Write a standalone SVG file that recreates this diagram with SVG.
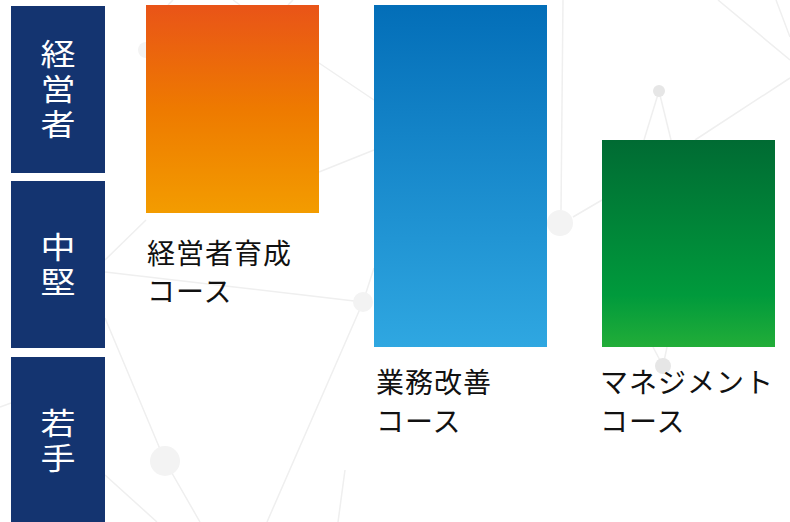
<svg xmlns="http://www.w3.org/2000/svg" width="790" height="522" viewBox="0 0 790 522">
<defs>
<linearGradient id="gOrange" x1="0" y1="0" x2="0" y2="1"><stop offset="0" stop-color="#e95418"/><stop offset="0.5" stop-color="#ee7a00"/><stop offset="1" stop-color="#f39c00"/></linearGradient>
<linearGradient id="gBlue" x1="0" y1="0" x2="0" y2="1"><stop offset="0" stop-color="#036eb8"/><stop offset="1" stop-color="#2fa7e1"/></linearGradient>
<linearGradient id="gGreen" x1="0" y1="0" x2="0" y2="1"><stop offset="0" stop-color="#006b33"/><stop offset="0.75" stop-color="#009a3c"/><stop offset="1" stop-color="#22ad38"/></linearGradient>
<style>
.bgl{stroke:#efefef;stroke-width:1.5;fill:none}
.bgd{fill:#f3f3f3}
.bgd2{fill:#e6e6e6}
.lv{fill:#143470}
.vt{font-family:"Noto Sans CJK JP","Noto Sans",sans-serif;font-size:35px;fill:#ffffff;text-anchor:middle;writing-mode:vertical-rl;letter-spacing:6px}
.lb{font-family:"Noto Sans CJK JP","Noto Sans",sans-serif;font-size:28px;fill:#111111;letter-spacing:1px}
</style>
</defs>
<rect width="790" height="522" fill="#ffffff"/>
<g id="background">
<path class="bgl" d="M105 318 L165 461 L200 522 M105 475 L157 522 M105 272 L363 302 M363 302 L267 522 M363 302 L374 268 M345 470 L338 522 M319 63 L374 100 M319 172 L374 150 M105 260 L146 220 M563 0 L561 210 M573 217 L602 200 M695 140 L790 78 M718 0 L790 60 M776 0 L790 37 M173 0 L168 5 M233 0 L240 5 M293 0 L288 5 M0 407 L11 403"/>
<path class="bgl" stroke="#e4e4e4" d="M659 91 L644 140 M659 91 L671 140 M653 347 L663 366 M667 347 L663 366"/>
<circle class="bgd" cx="560" cy="223" r="13"/>
<circle class="bgd" cx="363" cy="302" r="10"/>
<circle class="bgd" cx="165" cy="461" r="15"/>
<circle class="bgd" cx="146" cy="50" r="8"/>
<circle class="bgd2" cx="659" cy="91" r="6"/>
<circle class="bgd2" cx="663" cy="366" r="8"/>
</g>
<g id="connectors"></g>
<g id="level-keieisha">
<rect class="lv" x="11" y="6" width="94" height="167"/>
<text class="vt" transform="translate(58,91) scale(1,0.85)" x="0" y="0">経営者</text>
</g>
<g id="level-chuken">
<rect class="lv" x="11" y="181" width="94" height="167"/>
<text class="vt" transform="translate(58,267) scale(1,0.85)" x="0" y="0">中堅</text>
</g>
<g id="level-wakate">
<rect class="lv" x="11" y="357" width="94" height="165"/>
<text class="vt" transform="translate(58,443) scale(1,0.85)" x="0" y="0">若手</text>
</g>
<g id="course-keieisha">
<rect x="146" y="5" width="173" height="208" fill="url(#gOrange)"/>
<text class="lb" x="147" y="264">経営者育成</text>
<text class="lb" x="147" y="302">コース</text>
</g>
<g id="course-gyomu">
<rect x="374" y="5" width="173" height="342" fill="url(#gBlue)"/>
<text class="lb" x="376" y="393">業務改善</text>
<text class="lb" x="376" y="432">コース</text>
</g>
<g id="course-management">
<rect x="602" y="140" width="173" height="207" fill="url(#gGreen)"/>
<text class="lb" x="600" y="393">マネジメント</text>
<text class="lb" x="600" y="432">コース</text>
</g>
</svg>
